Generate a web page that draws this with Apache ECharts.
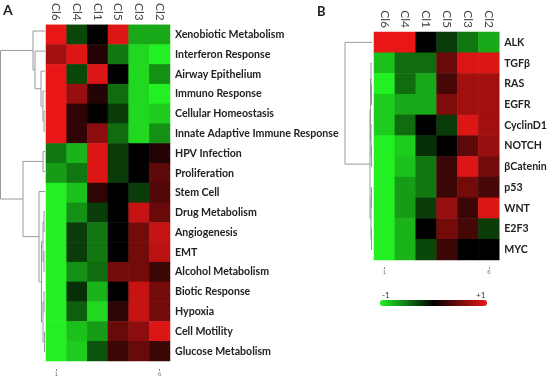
<!DOCTYPE html>
<html>
<head>
<meta charset="utf-8">
<script src="https://cdn.jsdelivr.net/npm/echarts@6/dist/echarts.min.js"></script>
<style>
  html, body { margin: 0; padding: 0; background: #fff; }
  #main { width: 550px; height: 377px; }
</style>
</head>
<body>
<div id="main"></div>
<script>
  // columns (same order in both panels)
  var cols = ['Cl6', 'Cl4', 'Cl1', 'Cl5', 'Cl3', 'Cl2']

  // panel A: pathways
  var rowsA = ['Xenobiotic Metabolism', 'Interferon Response', 'Airway Epithelium', 'Immuno Response',
    'Cellular Homeostasis', 'Innate Adaptive Immune Response', 'HPV Infection', 'Proliferation',
    'Stem Cell', 'Drug Metabolism', 'Angiogenesis', 'EMT', 'Alcohol Metabolism', 'Biotic Response',
    'Hypoxia', 'Cell Motility', 'Glucose Metabolism']
  var valuesA = [
    [1.0, -0.3, 0.0, 0.95, -0.7, -0.7],
    [0.7, 0.95, 0.15, -0.5, -0.9, -1.0],
    [1.0, -0.3, 0.95, 0.0, -0.9, -0.6],
    [1.0, 0.65, 0.15, -0.45, -0.9, -1.0],
    [1.0, 0.2, 0.02, -0.25, -0.9, -0.85],
    [1.0, 0.2, 0.6, -0.45, -0.9, -0.6],
    [-0.5, -0.75, 0.95, -0.25, 0.0, 0.15],
    [-0.65, -0.5, 0.95, -0.25, 0.0, 0.4],
    [-1.0, -0.8, 0.2, 0.0, -0.25, 0.35],
    [-1.0, -0.6, -0.25, 0.0, 0.85, 0.45],
    [-1.0, -0.25, -0.5, 0.0, 0.5, 0.85],
    [-1.0, -0.25, -0.5, 0.0, 0.5, 0.8],
    [-1.0, -0.6, -0.45, 0.5, 0.5, 0.25],
    [-1.0, -0.2, -0.75, 0.0, 0.85, 0.5],
    [-1.0, -0.4, -0.9, 0.2, 0.85, 0.5],
    [-1.0, -0.8, -0.65, 0.45, 0.6, 0.95],
    [-1.0, -0.85, -0.35, 0.25, 0.45, 0.25]
  ]
  // dendrogram A: [child, child, height]; numbers are rows, 'nK' is merge K
  var mergesA = [
    [4, 5, 1], [3, 'n0', 2], [2, 'n1', 4], [1, 'n2', 10], [0, 'n3', 12],
    [6, 7, 2], [9, 10, 1], [11, 12, 1], ['n6', 'n7', 2], [13, 14, 1], [15, 16, 0.5],
    ['n9', 'n10', 2], ['n8', 'n11', 3.5], [8, 'n12', 6], ['n5', 'n13', 22], ['n4', 'n14', 44.5]
  ]

  // panel B: genes
  var rowsB = ['ALK', 'TGFβ', 'RAS', 'EGFR', 'CyclinD1', 'NOTCH', 'βCatenin', 'p53', 'WNT', 'E2F3', 'MYC']
  var valuesB = [
    [1.0, 1.0, 0.0, -0.25, -0.5, -0.7],
    [-0.8, -0.45, -0.45, 0.45, 0.95, 0.95],
    [-1.0, -0.45, -0.7, 0.3, 0.7, 0.7],
    [-0.85, -0.7, -0.7, 0.55, 0.7, 0.7],
    [-0.85, -0.45, 0.0, -0.25, 0.95, 0.7],
    [-1.0, -0.85, -0.2, 0.0, 0.4, 0.65],
    [-1.0, -0.8, -0.5, 0.25, 0.95, 0.5],
    [-1.0, -0.65, -0.5, 0.25, 0.5, 0.3],
    [-1.0, -0.65, -0.25, 0.65, 0.25, 0.95],
    [-1.0, -0.75, 0.0, 0.5, 0.3, -0.25],
    [-1.0, -0.75, -0.3, 0.25, 0.0, 0.0]
  ]
  var mergesB = [
    [2, 3, 0.5], [1, 'n0', 1], [5, 6, 0.5], [4, 'n2', 1], ['n1', 'n3', 1.5],
    [7, 8, 0.5], [9, 10, 0.5], ['n5', 'n6', 1], ['n4', 'n7', 2], [0, 'n8', 27]
  ]

  var scaleText = ['-1', '+1']
  var edgeCols = ['1', '6']

  function heatData(values) {
    var out = []
    values.forEach(function (row, r) {
      row.forEach(function (v, c) { out.push([c, r, v]) })
    })
    return out
  }

  // turn merges into U shaped polylines (x = height, y = row index)
  function dendroLines(merges) {
    var nodes = []
    function pos(ref) {
      if (typeof ref === 'number') return [0, ref]
      return nodes[parseInt(ref.slice(1))]
    }
    var lines = []
    merges.forEach(function (m) {
      var a = pos(m[0]), b = pos(m[1]), h = m[2]
      lines.push({ coords: [[a[0], a[1]], [h, a[1]], [h, b[1]], [b[0], b[1]]] })
      nodes.push([h, (a[1] + b[1]) / 2])
    })
    return lines
  }

  var font = 'Lato, "Liberation Sans", sans-serif'
  var chart = echarts.init(document.getElementById('main'))

  function heatAxes(gi, rows, offset) {
    return {
      x: [{
        type: 'category', gridIndex: gi, data: cols, position: 'top',
        axisLine: { show: false }, axisTick: { show: false },
        axisLabel: { rotate: 90, fontSize: 12, color: '#444', margin: 4, fontFamily: font }
      }, {
        type: 'category', gridIndex: gi, data: cols, position: 'bottom', offset: offset,
        axisLine: { show: false },
        axisTick: { show: true, length: 2, alignWithLabel: true, lineStyle: { color: '#888' },
          interval: function (i) { return i === 0 || i === cols.length - 1 } },
        axisLabel: { fontSize: 6, color: '#777', margin: 2, interval: 0,
          formatter: function (v, i) { return i === 0 ? edgeCols[0] : (i === cols.length - 1 ? edgeCols[1] : '') } }
      }],
      y: {
        type: 'category', gridIndex: gi, data: rows, inverse: true, position: 'right',
        axisLine: { show: false }, axisTick: { show: false },
        axisLabel: { fontSize: 10.6, fontWeight: 'bold', color: '#222', margin: 5, fontFamily: font }
      }
    }
  }
  var axA = heatAxes(1, rowsA, 8)
  var axB = heatAxes(3, rowsB, 7)

  chart.setOption({
    animation: false,
    grid: [
      { left: 0, top: 21, width: 45, height: 341 },
      { left: 46, top: 21, width: 124, height: 341 },
      { left: 330, top: 32, width: 42, height: 228 },
      { left: 374, top: 32, width: 126, height: 228 }
    ],
    xAxis: [
      { type: 'value', gridIndex: 0, min: 0, max: 45, inverse: true, show: false },
      axA.x[0], axA.x[1],
      { type: 'value', gridIndex: 2, min: 0, max: 42, inverse: true, show: false },
      axB.x[0], axB.x[1]
    ],
    yAxis: [
      { type: 'value', gridIndex: 0, min: -0.5, max: rowsA.length - 0.5, inverse: true, show: false },
      axA.y,
      { type: 'value', gridIndex: 2, min: -0.5, max: rowsB.length - 0.5, inverse: true, show: false },
      axB.y
    ],
    visualMap: {
      type: 'continuous', min: -1, max: 1, seriesIndex: [1, 3], orient: 'horizontal',
      left: 380, top: 300, itemWidth: 6, itemHeight: 107, padding: 0,
      calculable: false, text: null, showLabel: false, hoverLink: false,
      inRange: { color: ['#22f022', '#000000', '#e81616'] }
    },
    graphic: [
      { type: 'text', left: 3, top: 3, style: { text: 'A', font: 'bold 14px ' + font, fill: '#222' } },
      { type: 'text', left: 317, top: 5, style: { text: 'B', font: 'bold 13px ' + font, fill: '#222' } },
      { type: 'text', left: 382, top: 291, style: { text: scaleText[0], font: '8px ' + font, fill: '#333' } },
      { type: 'text', left: 476, top: 291, style: { text: scaleText[1], font: '8px ' + font, fill: '#333' } }
    ],
    series: [
      {
        type: 'lines', coordinateSystem: 'cartesian2d', xAxisIndex: 0, yAxisIndex: 0,
        polyline: true, silent: true, data: dendroLines(mergesA),
        lineStyle: { color: '#999', width: 1, opacity: 1 }
      },
      {
        type: 'heatmap', xAxisIndex: 1, yAxisIndex: 1, data: heatData(valuesA),
        itemStyle: { borderWidth: 0 }
      },
      {
        type: 'lines', coordinateSystem: 'cartesian2d', xAxisIndex: 3, yAxisIndex: 2,
        polyline: true, silent: true, data: dendroLines(mergesB),
        lineStyle: { color: '#999', width: 1, opacity: 1 }
      },
      {
        type: 'heatmap', xAxisIndex: 4, yAxisIndex: 3, data: heatData(valuesB),
        itemStyle: { borderWidth: 0 }
      }
    ]
  })
</script>
</body>
</html>
